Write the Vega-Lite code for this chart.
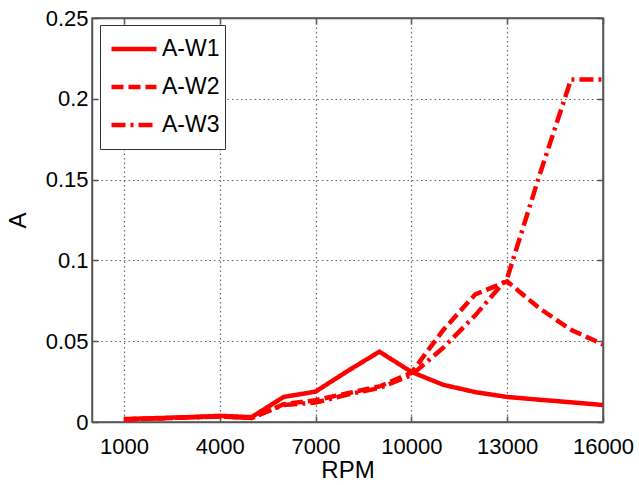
{
  "$schema": "https://vega.github.io/schema/vega-lite/v6.json",
  "width": 511,
  "height": 404,
  "autosize": {"type": "none"},
  "padding": {"left": 92, "top": 18, "right": 36, "bottom": 63},
  "background": "white",
  "config": {
    "font": "Liberation Sans",
    "view": {"stroke": "#555555", "strokeWidth": 1.5},
    "axis": {
      "labelFont": "Liberation Sans",
      "labelFontSize": 22,
      "labelColor": "#000000",
      "labelFlush": false,
      "titleFont": "Liberation Sans",
      "titleFontSize": 24,
      "titleFontWeight": "normal",
      "titleColor": "#000000",
      "domainColor": "#555555",
      "domainWidth": 1.5,
      "tickColor": "#555555",
      "tickWidth": 1.5,
      "tickSize": -6,
      "gridColor": "#666666",
      "gridDash": [1.5, 3],
      "gridWidth": 1.2,
      "gridOpacity": 1
    }
  },
  "data": {
    "values": [
      {"rpm": 1000, "A": 0.0018, "series": "A-W1"},
      {"rpm": 2000, "A": 0.0024, "series": "A-W1"},
      {"rpm": 3000, "A": 0.003, "series": "A-W1"},
      {"rpm": 4000, "A": 0.0038, "series": "A-W1"},
      {"rpm": 5000, "A": 0.003, "series": "A-W1"},
      {"rpm": 6000, "A": 0.0155, "series": "A-W1"},
      {"rpm": 7000, "A": 0.0188, "series": "A-W1"},
      {"rpm": 8000, "A": 0.0315, "series": "A-W1"},
      {"rpm": 9000, "A": 0.0435, "series": "A-W1"},
      {"rpm": 10000, "A": 0.031, "series": "A-W1"},
      {"rpm": 11000, "A": 0.023, "series": "A-W1"},
      {"rpm": 12000, "A": 0.0185, "series": "A-W1"},
      {"rpm": 13000, "A": 0.0155, "series": "A-W1"},
      {"rpm": 14000, "A": 0.0138, "series": "A-W1"},
      {"rpm": 15000, "A": 0.0122, "series": "A-W1"},
      {"rpm": 16000, "A": 0.0105, "series": "A-W1"},
      {"rpm": 1000, "A": 0.0016, "series": "A-W2"},
      {"rpm": 2000, "A": 0.0022, "series": "A-W2"},
      {"rpm": 3000, "A": 0.0028, "series": "A-W2"},
      {"rpm": 4000, "A": 0.0034, "series": "A-W2"},
      {"rpm": 5000, "A": 0.0025, "series": "A-W2"},
      {"rpm": 6000, "A": 0.011, "series": "A-W2"},
      {"rpm": 7000, "A": 0.0135, "series": "A-W2"},
      {"rpm": 8000, "A": 0.0178, "series": "A-W2"},
      {"rpm": 9000, "A": 0.022, "series": "A-W2"},
      {"rpm": 10000, "A": 0.0305, "series": "A-W2"},
      {"rpm": 11000, "A": 0.057, "series": "A-W2"},
      {"rpm": 12000, "A": 0.079, "series": "A-W2"},
      {"rpm": 13000, "A": 0.087, "series": "A-W2"},
      {"rpm": 14000, "A": 0.0705, "series": "A-W2"},
      {"rpm": 15000, "A": 0.057, "series": "A-W2"},
      {"rpm": 16000, "A": 0.048, "series": "A-W2"},
      {"rpm": 1000, "A": 0.0016, "series": "A-W3"},
      {"rpm": 2000, "A": 0.0022, "series": "A-W3"},
      {"rpm": 3000, "A": 0.0028, "series": "A-W3"},
      {"rpm": 4000, "A": 0.0034, "series": "A-W3"},
      {"rpm": 5000, "A": 0.0025, "series": "A-W3"},
      {"rpm": 6000, "A": 0.0105, "series": "A-W3"},
      {"rpm": 7000, "A": 0.012, "series": "A-W3"},
      {"rpm": 8000, "A": 0.017, "series": "A-W3"},
      {"rpm": 9000, "A": 0.021, "series": "A-W3"},
      {"rpm": 10000, "A": 0.029, "series": "A-W3"},
      {"rpm": 11000, "A": 0.046, "series": "A-W3"},
      {"rpm": 12000, "A": 0.066, "series": "A-W3"},
      {"rpm": 13000, "A": 0.089, "series": "A-W3"},
      {"rpm": 14000, "A": 0.152, "series": "A-W3"},
      {"rpm": 15000, "A": 0.212, "series": "A-W3"},
      {"rpm": 16000, "A": 0.212, "series": "A-W3"}
    ]
  },
  "layer": [
    {
      "mark": {"type": "line", "color": "#ff0000", "strokeWidth": 4.5, "strokeJoin": "miter", "clip": true},
      "encoding": {
        "x": {
          "field": "rpm",
          "type": "quantitative",
          "scale": {"domain": [0, 16000], "nice": false, "zero": false},
          "axis": {
            "values": [1000, 4000, 7000, 10000, 13000, 16000],
            "format": "d",
            "title": "RPM",
            "labelPadding": 20,
            "titlePadding": 1,
            "grid": true
          }
        },
        "y": {
          "field": "A",
          "type": "quantitative",
          "scale": {"domain": [0, 0.25], "nice": false},
          "axis": {
            "values": [0, 0.05, 0.1, 0.15, 0.2, 0.25],
            "format": "~g",
            "title": "A",
            "labelPadding": 10,
            "titlePadding": 15,
            "grid": true
          }
        },
        "strokeDash": {
          "field": "series",
          "type": "nominal",
          "scale": {
            "domain": ["A-W1", "A-W2", "A-W3"],
            "range": [[1, 0], [12, 5], [14, 5, 3, 5]]
          },
          "legend": {
            "title": null,
            "orient": "none",
            "legendX": 8,
            "legendY": 7,
            "symbolType": "stroke",
            "symbolSize": 2025,
            "symbolStrokeWidth": 4.5,
            "symbolStrokeColor": "#ff0000",
            "symbolOffset": 4,
            "clipHeight": 38,
            "rowPadding": 0,
            "labelOffset": 3,
            "labelFontSize": 23,
            "labelFont": "Liberation Sans",
            "labelColor": "#000000",
            "padding": 5,
            "strokeColor": "#333333",
            "fillColor": "#ffffff"
          }
        }
      }
    },
    {
      "mark": {"type": "line", "opacity": 0},
      "encoding": {
        "x": {
          "field": "rpm",
          "type": "quantitative",
          "axis": {
            "orient": "top",
            "values": [1000, 4000, 7000, 10000, 13000, 16000],
            "labels": false,
            "title": null,
            "grid": false
          }
        },
        "y": {
          "field": "A",
          "type": "quantitative",
          "axis": {
            "orient": "right",
            "values": [0, 0.05, 0.1, 0.15, 0.2, 0.25],
            "labels": false,
            "title": null,
            "grid": false
          }
        }
      }
    }
  ],
  "resolve": {"axis": {"x": "independent", "y": "independent"}}
}
